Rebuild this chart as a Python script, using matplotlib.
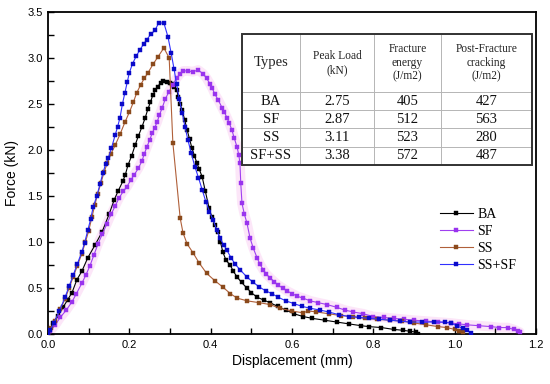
import matplotlib
matplotlib.use("Agg")
import matplotlib.pyplot as plt
from matplotlib.ticker import MultipleLocator

# ---------------- data ----------------
ba_pts = [(0, 0), (0.012, 0.12), (0.025, 0.2), (0.037, 0.29), (0.048, 0.37), (0.059, 0.45),
          (0.071, 0.59), (0.083, 0.68), (0.098, 0.83), (0.116, 0.97), (0.133, 1.11), (0.15, 1.3),
          (0.163, 1.46), (0.172, 1.55), (0.184, 1.66), (0.19, 1.73), (0.197, 1.84), (0.206, 1.94),
          (0.214, 2.05), (0.222, 2.15), (0.231, 2.25), (0.239, 2.35), (0.246, 2.45), (0.252, 2.52),
          (0.258, 2.6), (0.264, 2.65), (0.27, 2.69), (0.277, 2.73), (0.283, 2.75), (0.292, 2.74),
          (0.3, 2.73), (0.305, 2.72), (0.311, 2.69), (0.317, 2.65), (0.32, 2.58), (0.325, 2.5),
          (0.33, 2.43), (0.336, 2.33), (0.342, 2.22), (0.348, 2.12), (0.354, 2.02), (0.36, 1.94),
          (0.366, 1.86), (0.372, 1.79), (0.379, 1.71), (0.387, 1.55), (0.396, 1.37), (0.403, 1.27),
          (0.41, 1.18), (0.418, 1.11), (0.424, 1.0), (0.43, 0.89), (0.438, 0.8), (0.448, 0.75),
          (0.456, 0.68), (0.465, 0.62), (0.476, 0.56), (0.489, 0.5), (0.5, 0.45), (0.514, 0.4),
          (0.53, 0.37), (0.546, 0.34), (0.565, 0.3), (0.585, 0.26), (0.605, 0.22), (0.627, 0.19),
          (0.65, 0.17), (0.68, 0.15), (0.71, 0.13), (0.74, 0.11), (0.77, 0.09), (0.79, 0.08),
          (0.82, 0.07), (0.85, 0.05), (0.873, 0.04), (0.89, 0.03), (0.905, 0.02), (0.91, 0.0)]

sf_pts = [(0, 0), (0.005, 0.03), (0.018, 0.1), (0.03, 0.18), (0.045, 0.26), (0.059, 0.35),
          (0.07, 0.44), (0.083, 0.55), (0.093, 0.64), (0.103, 0.74), (0.113, 0.86), (0.123, 0.98),
          (0.134, 1.09), (0.145, 1.2), (0.155, 1.3), (0.165, 1.39), (0.175, 1.48), (0.185, 1.55),
          (0.194, 1.6), (0.203, 1.67), (0.212, 1.73), (0.222, 1.8), (0.231, 1.88), (0.237, 1.96),
          (0.243, 2.03), (0.25, 2.11), (0.256, 2.18), (0.262, 2.24), (0.268, 2.3), (0.274, 2.38),
          (0.281, 2.46), (0.288, 2.55), (0.297, 2.63), (0.307, 2.71), (0.316, 2.78), (0.325, 2.83),
          (0.333, 2.86), (0.344, 2.86), (0.356, 2.85), (0.369, 2.87), (0.381, 2.83), (0.39, 2.78),
          (0.398, 2.72), (0.404, 2.67), (0.41, 2.61), (0.419, 2.54), (0.428, 2.46), (0.434, 2.41),
          (0.44, 2.35), (0.446, 2.29), (0.452, 2.22), (0.458, 2.13), (0.465, 2.03), (0.469, 1.95),
          (0.472, 1.86), (0.474, 1.64), (0.477, 1.42), (0.483, 1.3), (0.489, 1.21), (0.497, 1.04),
          (0.505, 0.93), (0.514, 0.83), (0.521, 0.76), (0.529, 0.7), (0.537, 0.65), (0.546, 0.61),
          (0.556, 0.57), (0.566, 0.53), (0.577, 0.5), (0.587, 0.47), (0.6, 0.44), (0.613, 0.41),
          (0.627, 0.39), (0.645, 0.36), (0.665, 0.34), (0.686, 0.32), (0.71, 0.29), (0.73, 0.26),
          (0.75, 0.24), (0.775, 0.22), (0.8, 0.19), (0.825, 0.18), (0.85, 0.17), (0.875, 0.16),
          (0.9, 0.15), (0.93, 0.14), (0.96, 0.13), (0.99, 0.12), (1.01, 0.11), (1.03, 0.1),
          (1.06, 0.09), (1.09, 0.08), (1.11, 0.07), (1.13, 0.07), (1.145, 0.05), (1.155, 0.03),
          (1.16, 0.02)]

ss_pts = [(0, 0), (0.008, 0.06), (0.018, 0.14), (0.03, 0.27), (0.042, 0.38), (0.052, 0.5),
          (0.062, 0.62), (0.072, 0.74), (0.083, 0.87), (0.092, 1.0), (0.1, 1.12), (0.108, 1.27),
          (0.115, 1.4), (0.122, 1.52), (0.13, 1.64), (0.138, 1.76), (0.146, 1.86), (0.155, 1.96),
          (0.165, 2.05), (0.177, 2.17), (0.189, 2.3), (0.2, 2.41), (0.21, 2.52), (0.218, 2.62),
          (0.228, 2.71), (0.237, 2.78), (0.246, 2.84), (0.258, 2.93), (0.27, 3.01), (0.285, 3.11),
          (0.298, 3.0), (0.307, 2.08), (0.325, 1.26), (0.332, 1.1), (0.342, 0.98), (0.357, 0.88),
          (0.372, 0.77), (0.39, 0.66), (0.41, 0.58), (0.43, 0.51), (0.448, 0.44), (0.465, 0.39),
          (0.49, 0.36), (0.52, 0.34), (0.546, 0.32), (0.57, 0.28), (0.6, 0.25), (0.627, 0.23),
          (0.64, 0.25), (0.66, 0.24), (0.69, 0.22), (0.72, 0.2), (0.75, 0.19), (0.78, 0.17),
          (0.81, 0.16), (0.84, 0.15), (0.87, 0.14), (0.9, 0.12), (0.93, 0.1), (0.96, 0.08),
          (0.98, 0.07), (1.0, 0.05), (1.01, 0.03), (1.02, 0.02)]

sssf_pts = [(0, 0), (0.005, 0.04), (0.015, 0.12), (0.028, 0.25), (0.042, 0.4), (0.052, 0.52),
            (0.062, 0.64), (0.072, 0.76), (0.083, 0.89), (0.09, 0.99), (0.098, 1.13), (0.105, 1.25),
            (0.111, 1.38), (0.12, 1.5), (0.128, 1.63), (0.135, 1.75), (0.142, 1.85), (0.148, 1.91),
            (0.156, 2.02), (0.165, 2.16), (0.171, 2.25), (0.177, 2.35), (0.183, 2.5), (0.189, 2.62),
            (0.195, 2.74), (0.2, 2.84), (0.208, 2.94), (0.217, 3.02), (0.226, 3.09), (0.235, 3.15),
            (0.243, 3.2), (0.253, 3.26), (0.263, 3.3), (0.272, 3.38), (0.285, 3.38), (0.295, 3.23),
            (0.303, 3.05), (0.31, 2.88), (0.316, 2.72), (0.323, 2.55), (0.33, 2.4), (0.337, 2.25),
            (0.344, 2.11), (0.352, 1.97), (0.361, 1.82), (0.37, 1.7), (0.379, 1.57), (0.388, 1.44),
            (0.397, 1.33), (0.406, 1.24), (0.415, 1.13), (0.423, 1.04), (0.432, 0.97), (0.44, 0.91),
            (0.45, 0.83), (0.46, 0.76), (0.472, 0.7), (0.489, 0.62), (0.505, 0.56), (0.52, 0.51),
            (0.535, 0.47), (0.55, 0.44), (0.566, 0.4), (0.585, 0.36), (0.605, 0.33), (0.625, 0.3),
            (0.645, 0.28), (0.669, 0.26), (0.69, 0.24), (0.715, 0.21), (0.74, 0.19), (0.765, 0.18),
            (0.79, 0.17), (0.815, 0.16), (0.84, 0.15), (0.865, 0.14), (0.89, 0.13), (0.92, 0.13),
            (0.95, 0.13), (0.975, 0.13), (0.99, 0.12), (1.005, 0.09), (1.02, 0.06), (1.03, 0.04),
            (1.04, 0.01)]

series_labels = ["BA", "SF", "SS", "SS+SF"]

table_header = ["Types", "Peak Load\n(kN)", "Fracture\nenergy\n(J/m2)", "Post-Fracture\ncracking\n(J/m2)"]
table_types = ["BA", "SF", "SS", "SF+SS"]
table_peak = ["2.75", "2.87", "3.11", "3.38"]
table_energy = ["405", "512", "523", "572"]
table_post = ["427", "563", "280", "487"]

# ---------------- figure ----------------
W, H = 550, 384
fig = plt.figure(figsize=(W / 100, H / 100), dpi=100)
ax = fig.add_axes([48 / W, (H - 334) / H, 488 / W, 322 / H])

styles = [
    dict(color="#000000", mfc="#000000", mec="#000000"),
    dict(color="#a040f0", mfc="#9933ee", mec="#9933ee"),
    dict(color="#b0603a", mfc="#8b4a1c", mec="#8b4a1c"),
    dict(color="#3030ff", mfc="#0a0ac8", mec="#0a0ac8"),
]
all_pts = [ba_pts, sf_pts, ss_pts, sssf_pts]

# pink glow under the SF curve
sx = [p[0] for p in sf_pts]
sy = [p[1] for p in sf_pts]
ax.plot(sx, sy, color="#fce6f8", lw=7, solid_capstyle="round", zorder=1)

order = [1, 0, 2, 3]
handles = {}
for i in order:
    pts = all_pts[i]
    xs = [p[0] for p in pts]
    ys = [p[1] for p in pts]
    st = styles[i]
    h, = ax.plot(xs, ys, "-", color=st["color"], lw=0.8, marker="s", ms=2.2,
                 mfc=st["mfc"], mec=st["mec"], mew=0.3, label=series_labels[i], zorder=3 + i)
    handles[i] = h

ax.set_xlim(0, 1.2)
ax.set_ylim(0, 3.5)
ax.xaxis.set_major_locator(MultipleLocator(0.2))
ax.xaxis.set_minor_locator(MultipleLocator(0.1))
ax.yaxis.set_major_locator(MultipleLocator(0.5))
ax.yaxis.set_minor_locator(MultipleLocator(0.25))
ax.xaxis.set_major_formatter(matplotlib.ticker.FormatStrFormatter("%.1f"))
ax.yaxis.set_major_formatter(matplotlib.ticker.FormatStrFormatter("%.1f"))
ax.tick_params(which="both", direction="in", length=4, width=1.0, top=False, right=False,
               labelsize=8, pad=4)
for lab in ax.get_xticklabels() + ax.get_yticklabels():
    lab.set_fontfamily("Liberation Sans")
for sp in ax.spines.values():
    sp.set_linewidth(1.3)

ax.set_xlabel("Displacement (mm)", fontsize=10, fontfamily="Liberation Sans", labelpad=3)
ax.set_ylabel("Force (kN)", fontsize=10, fontfamily="Liberation Sans", labelpad=6)

leg = ax.legend([handles[i] for i in range(4)], series_labels, loc="upper left",
                bbox_to_anchor=((430 - 48) / 488, (334 - 198) / 322), frameon=False,
                prop=dict(family="Liberation Serif", size=10), handlelength=2.4, numpoints=1,
                handletextpad=0.3, labelspacing=0.3, borderpad=0.2)

# ---------------- table ----------------
rows = [table_header] + [[a, b, c, d] for a, b, c, d in zip(table_types, table_peak, table_energy, table_post)]
x0 = (242 - 48) / 488
x1 = (532 - 48) / 488
ytop = (334 - 34) / 322
ybot = (334 - 165) / 322
colw = [58, 74, 67, 91]
tbl = ax.table(cellText=rows, cellLoc="center",
               colWidths=[c / sum(colw) for c in colw],
               bbox=[x0, ybot, x1 - x0, ytop - ybot], zorder=10)
tbl.auto_set_font_size(False)
for (r, c), cell in tbl.get_celld().items():
    cell.set_edgecolor("#b0b0b0")
    cell.set_linewidth(0.6)
    cell.set_facecolor("white")
    cell.set_height(58 if r == 0 else 18.3)
    txt = cell.get_text()
    txt.set_fontfamily("Liberation Serif")
    if r == 0:
        txt.set_fontsize(10.5 if c == 0 else 8.3)
        txt.set_color("#222222")
        txt.set_linespacing(1.2)
    else:
        txt.set_fontsize(10.5)
        txt.set_color("#111111")

ax.add_patch(plt.Rectangle((x0, ybot), x1 - x0, ytop - ybot, transform=ax.transAxes,
                           fill=False, edgecolor="#333333", lw=1.4, zorder=11))

fig.savefig("out.png", dpi=100, facecolor="white")
